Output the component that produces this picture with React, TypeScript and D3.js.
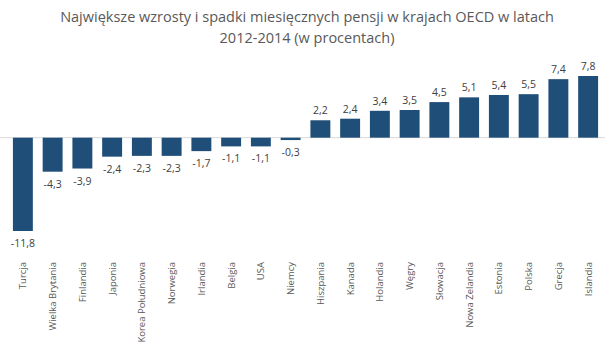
import React from "react";
import * as d3 from "d3";

const categories = ["Turcja","Wielka Brytania","Finlandia","Japonia","Korea Południowa","Norwegia","Irlandia","Belgia","USA","Niemcy","Hiszpania","Kanada","Holandia","Węgry","Słowacja","Nowa Zelandia","Estonia","Polska","Grecja","Islandia"];
const values = [-11.8,-4.3,-3.9,-2.4,-2.3,-2.3,-1.7,-1.1,-1.1,-0.3,2.2,2.4,3.4,3.5,4.5,5.1,5.4,5.5,7.4,7.8];
const titleLines = ["Największe wzrosty i spadki miesięcznych pensji w krajach OECD w latach","2012-2014 (w procentach)"];

const W = 614, H = 348;
const font = "'Open Sans', 'Liberation Sans', sans-serif";

export default function App() {
  const x = d3.scaleBand<string>().domain(categories).range([8, 603]).paddingInner(0.33).paddingOuter(0.165);
  const y = d3.scaleLinear().domain([-11.8, 7.8]).range([231, 76]);
  const fmt = (v: number) => v.toFixed(1).replace(".", ",");
  return (
    <svg width={W} height={H} style={{ position: "absolute", left: 0, top: 0, background: "#fff" }}>
      {titleLines.map((t, i) => (
        <text key={i} x={307} y={22 + i * 21} textAnchor="middle" fontFamily={font} fontSize={14.5} fill="#595959">{t}</text>
      ))}
      <line x1={0} x2={605} y1={y(0)} y2={y(0)} stroke="#d9d9d9" strokeWidth={1} />
      {categories.map((c, i) => {
        const v = values[i];
        const bx = x(c)!;
        const y0 = y(0), y1 = y(v);
        const top = Math.min(y0, y1), h = Math.abs(y1 - y0);
        const cx = bx + x.bandwidth() / 2;
        return (
          <g key={c}>
            <rect x={bx} y={top} width={x.bandwidth()} height={h} fill="#1f4e79" />
            <text x={cx} y={v >= 0 ? y1 - 6 : y1 + 16} textAnchor="middle" fontFamily={font} fontSize={10.5} fill="#404040">{fmt(v)}</text>
            <text transform={`translate(${cx + 3.5},262) rotate(-90)`} textAnchor="end" fontFamily={font} fontSize={9.5} fill="#595959">{c}</text>
          </g>
        );
      })}
    </svg>
  );
}
